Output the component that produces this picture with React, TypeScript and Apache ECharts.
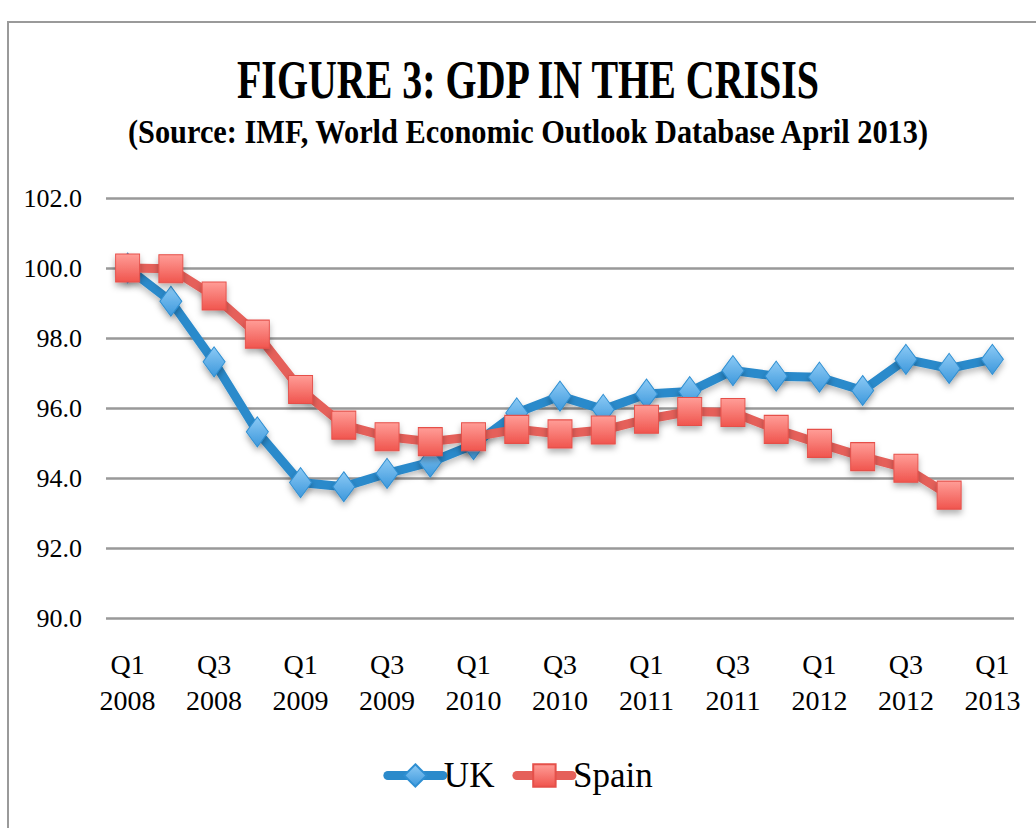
import React, { useEffect, useRef } from "react";
import * as echarts from "echarts";

const categories = [
  "Q1 2008", "Q2 2008", "Q3 2008", "Q4 2008",
  "Q1 2009", "Q2 2009", "Q3 2009", "Q4 2009",
  "Q1 2010", "Q2 2010", "Q3 2010", "Q4 2010",
  "Q1 2011", "Q2 2011", "Q3 2011", "Q4 2011",
  "Q1 2012", "Q2 2012", "Q3 2012", "Q4 2012",
  "Q1 2013",
];

const ukValues = [
  100.0, 99.05, 97.32, 95.32, 93.87, 93.75, 94.13, 94.45, 94.95, 95.86,
  96.34, 95.96, 96.4, 96.47, 97.07, 96.91, 96.88, 96.5, 97.39, 97.13, 97.39,
];

const spainValues = [
  100.0, 99.98, 99.2, 98.11, 96.53, 95.51, 95.18, 95.04, 95.18, 95.39,
  95.26, 95.37, 95.68, 95.9, 95.87, 95.39, 94.99, 94.61, 94.28, 93.51, null,
];

const yTicks = { min: 90, max: 102, interval: 2 };

const titleText = "FIGURE 3: GDP IN THE CRISIS";
const subtitleText = "(Source: IMF, World Economic Outlook Database April 2013)";

const FONT = "'Liberation Serif', 'DejaVu Serif', serif";

export default function App() {
  const ref = useRef<HTMLDivElement>(null);

  useEffect(() => {
    document.body.style.margin = "0";
    if (!ref.current) return;
    const chart = echarts.init(ref.current, null, { renderer: "svg" });
    const ukMarker = new echarts.graphic.LinearGradient(0, 0, 0, 1, [
      { offset: 0, color: "#8ccaf5" },
      { offset: 1, color: "#3d98dc" },
    ]);
    const spMarker = new echarts.graphic.LinearGradient(0, 0, 0, 1, [
      { offset: 0, color: "#ff9d97" },
      { offset: 1, color: "#f0554e" },
    ]);
    chart.setOption({
      animation: false,
      backgroundColor: "#ffffff",
      textStyle: { fontFamily: FONT },
      graphic: [
        {
          type: "rect",
          z: -10,
          silent: true,
          shape: { x: 8, y: 22, width: 1100, height: 900 },
          style: { fill: "none", stroke: "#9a9a9a", lineWidth: 2 },
        },
        {
          type: "text",
          x: 528,
          y: 80,
          scaleX: 0.74,
          style: {
            text: titleText,
            fontFamily: FONT,
            fontWeight: "bold",
            fontSize: 54,
            fill: "#000",
            textAlign: "center",
            textVerticalAlign: "middle",
          },
        },
        {
          type: "text",
          x: 528,
          y: 132,
          scaleX: 0.92,
          style: {
            text: subtitleText,
            fontFamily: FONT,
            fontWeight: "bold",
            fontSize: 33,
            fill: "#000",
            textAlign: "center",
            textVerticalAlign: "middle",
          },
        },
      ],
      grid: { left: 106, right: 22, top: 198, bottom: 210, containLabel: false },
      legend: {
        top: 753,
        left: "center",
        itemWidth: 55,
        itemHeight: 28,
        itemGap: 18,
        lineStyle: { width: 9, cap: "round" },
        textStyle: { fontFamily: FONT, fontSize: 35, color: "#000", padding: [0, 0, 0, -4] },
        data: ["UK", "Spain"],
      },
      xAxis: {
        type: "category",
        data: categories,
        boundaryGap: true,
        axisLine: { show: false },
        axisTick: { show: false },
        axisLabel: {
          interval: 1,
          margin: 28,
          fontFamily: FONT,
          fontSize: 28,
          lineHeight: 36,
          color: "#000",
          formatter: (v: string) => v.replace(" ", "\n"),
        },
      },
      yAxis: {
        type: "value",
        min: yTicks.min,
        max: yTicks.max,
        interval: yTicks.interval,
        axisLine: { show: false },
        axisTick: { show: false },
        axisLabel: {
          margin: 24,
          fontFamily: FONT,
          fontSize: 26,
          color: "#000",
          formatter: (v: number) => v.toFixed(1),
        },
        splitLine: { lineStyle: { color: "#999999", width: 2.5 } },
      },
      series: [
        {
          name: "UK",
          type: "line",
          data: ukValues,
          symbol: "diamond",
          symbolSize: [22, 30],
          showAllSymbol: true,
          lineStyle: {
            color: "#2b8acb",
            width: 9,
            shadowColor: "rgba(0,0,0,0.25)",
            shadowBlur: 6,
            shadowOffsetY: 4,
          },
          itemStyle: {
            color: ukMarker,
            borderColor: "#2f8fd2",
            borderWidth: 1,
            shadowColor: "rgba(0,0,0,0.3)",
            shadowBlur: 6,
            shadowOffsetY: 4,
          },
          z: 2,
        },
        {
          name: "Spain",
          type: "line",
          data: spainValues,
          symbol: "rect",
          symbolSize: [24, 28],
          showAllSymbol: true,
          lineStyle: {
            color: "#e5605a",
            width: 9,
            shadowColor: "rgba(0,0,0,0.25)",
            shadowBlur: 6,
            shadowOffsetY: 4,
          },
          itemStyle: {
            color: spMarker,
            borderColor: "#e5504a",
            borderWidth: 1,
            shadowColor: "rgba(0,0,0,0.3)",
            shadowBlur: 6,
            shadowOffsetY: 4,
          },
          z: 3,
        },
      ],
    });
    return () => chart.dispose();
  }, []);

  return <div ref={ref} style={{ width: 1036, height: 828 }} />;
}
